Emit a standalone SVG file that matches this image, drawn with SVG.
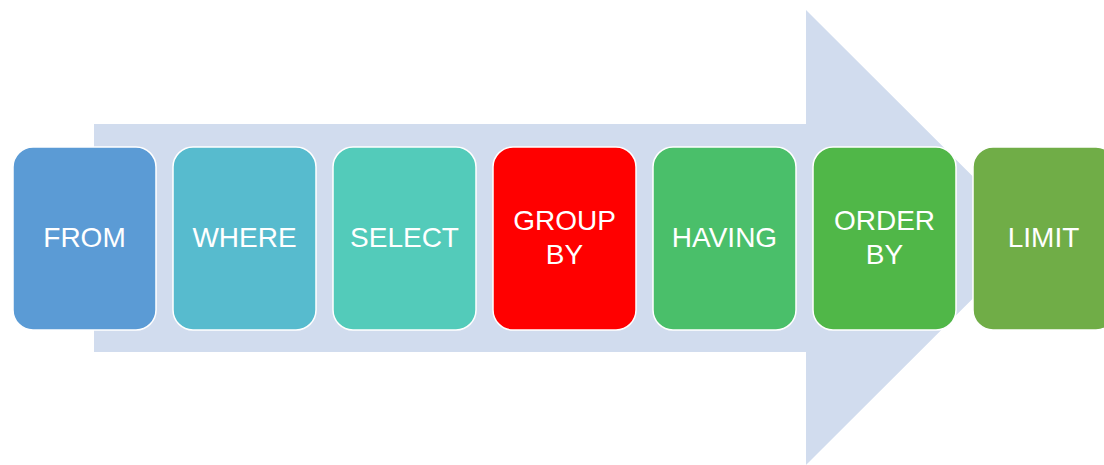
<svg xmlns="http://www.w3.org/2000/svg" width="1104" height="465" viewBox="0 0 1104 465">
  <style>
    .step { stroke: #ffffff; stroke-width: 1.5; }
    .label { font-family: "Liberation Sans", Arial, sans-serif; font-size: 28px; fill: #ffffff; text-anchor: middle; }
  </style>
  <rect width="1104" height="465" fill="#ffffff"/>
  <!-- background flow arrow -->
  <g id="flow-arrow">
    <path d="M94,124 H806 V10 L1034,237.5 L806,465 V352 H94 Z" fill="#D1DCEE"/>
  </g>
  <g id="connectors"></g>
  <g id="from">
    <rect class="step" x="13" y="147" width="143" height="183" rx="20" fill="#5B9BD5"/>
    <text class="label" x="84.5" y="247">FROM</text>
  </g>
  <g id="where">
    <rect class="step" x="173" y="147" width="143" height="183" rx="20" fill="#57BBCE"/>
    <text class="label" x="244.5" y="247">WHERE</text>
  </g>
  <g id="select">
    <rect class="step" x="333" y="147" width="143" height="183" rx="20" fill="#53CBBA"/>
    <text class="label" x="404.5" y="247">SELECT</text>
  </g>
  <g id="group-by">
    <rect class="step" x="493" y="147" width="143" height="183" rx="20" fill="#FF0000"/>
    <text class="label" x="564.5" y="230">GROUP</text>
    <text class="label" x="564.5" y="264">BY</text>
  </g>
  <g id="having">
    <rect class="step" x="653" y="147" width="143" height="183" rx="20" fill="#4ABF6A"/>
    <text class="label" x="724.5" y="247">HAVING</text>
  </g>
  <g id="order-by">
    <rect class="step" x="813" y="147" width="143" height="183" rx="20" fill="#50B748"/>
    <text class="label" x="884.5" y="230">ORDER</text>
    <text class="label" x="884.5" y="264">BY</text>
  </g>
  <g id="limit">
    <rect class="step" x="973" y="147" width="143" height="183" rx="20" fill="#70AD47"/>
    <text class="label" x="1043.5" y="247">LIMIT</text>
  </g>
</svg>
